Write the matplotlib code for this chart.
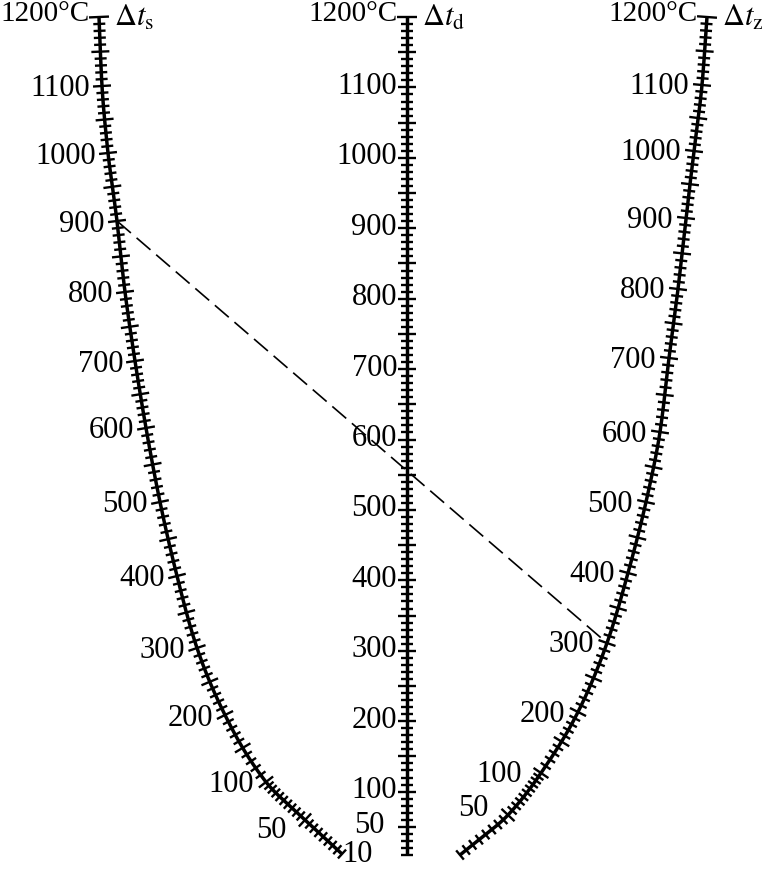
import numpy as np
import matplotlib
matplotlib.use('Agg')
import matplotlib.pyplot as plt
from matplotlib.collections import LineCollection

plt.rcParams['font.family'] = ['Liberation Serif', 'DejaVu Serif']
plt.rcParams['mathtext.fontset'] = 'stix'

# scale values (deg C) at the control points of each scale, bottom to top
s_vals = [10, 50, 100, 200, 300, 400, 500, 600, 700, 800, 900, 1000, 1100, 1200]
s_x = [342, 305, 266, 225, 197, 177, 160, 146, 135, 125, 117, 108, 102, 99]
s_y = [854, 820, 782, 715, 648, 576, 502, 428, 361, 292, 221, 153, 86, 17]

z_vals = [10, 50, 100, 200, 300, 400, 500, 600, 700, 800, 900, 1000, 1100, 1200]
z_x = [460, 508, 541, 578, 607, 628, 646, 660, 669, 678, 686, 694, 702, 707]
z_y = [855, 815, 773, 712, 643, 573, 502, 432, 358, 289, 218, 151, 85, 17]

d_vals = [10, 1200]
d_x = [407, 407]
d_y = [855, 17]

# labelled values
s_labels = [1100, 1000, 900, 800, 700, 600, 500, 400, 300, 200, 100, 50]
d_labels = [1100, 1000, 900, 800, 700, 600, 500, 400, 300, 200, 100, 50, 10]
z_labels = [1100, 1000, 900, 800, 700, 600, 500, 400, 300, 200, 100, 50]

# example reading (dashed line)
ex_s = 900
ex_z = 300


def pchip(xk, yk, x):
    xk = np.asarray(xk, float)
    yk = np.asarray(yk, float)
    x = np.atleast_1d(np.asarray(x, float))
    h = np.diff(xk)
    d = np.diff(yk) / h
    n = len(xk)
    m = np.zeros(n)
    if n == 2:
        m[:] = d[0]
    else:
        m[0] = d[0]
        m[-1] = d[-1]
        for k in range(1, n - 1):
            if d[k - 1] * d[k] > 0:
                w1 = 2 * h[k] + h[k - 1]
                w2 = h[k] + 2 * h[k - 1]
                m[k] = (w1 + w2) / (w1 / d[k - 1] + w2 / d[k])
    i = np.clip(np.searchsorted(xk, x) - 1, 0, n - 2)
    t = (x - xk[i]) / h[i]
    h00 = 2 * t**3 - 3 * t**2 + 1
    h10 = t**3 - 2 * t**2 + t
    h01 = -2 * t**3 + 3 * t**2
    h11 = t**3 - t**2
    return h00 * yk[i] + h10 * h[i] * m[i] + h01 * yk[i + 1] + h11 * h[i] * m[i + 1]


def scale_point(vals, xs, ys, v):
    return float(pchip(vals, xs, v)[0]), float(pchip(vals, ys, v)[0])


fig = plt.figure(figsize=(7.62, 8.69), dpi=100)
ax = fig.add_axes([0, 0, 1, 1])
ax.set_xlim(0, 762)
ax.set_ylim(869, 0)
ax.axis('off')

FS = 22
ticks_10 = np.arange(10, 1201, 10)
ticks_5 = np.concatenate([np.arange(10, 100, 5), np.arange(100, 1201, 10)])


def draw_scale(vals, xs, ys, labels, name, ticks, gap=12, dy=2, shift=None):
    v = np.linspace(10, 1200, 800)
    ax.plot(pchip(vals, xs, v), pchip(vals, ys, v), color='k', lw=2.5,
            solid_capstyle='butt', zorder=3)
    segs = []
    for t in ticks:
        x0, y0 = scale_point(vals, xs, ys, t)
        xa, ya = scale_point(vals, xs, ys, max(t - 1, 10))
        xb, yb = scale_point(vals, xs, ys, min(t + 1, 1200))
        tx, ty = xb - xa, yb - ya
        nrm = np.hypot(tx, ty)
        nx, ny = -ty / nrm, tx / nrm
        half = 9 if t % 50 == 0 else 6
        if t == 1200:
            half = 10
        segs.append([(x0 - nx * half, y0 - ny * half), (x0 + nx * half, y0 + ny * half)])
    ax.add_collection(LineCollection(segs, colors='k', linewidths=1.7, zorder=3))
    for lab in labels:
        x0, y0 = scale_point(vals, xs, ys, lab)
        sx, sy = (shift or {}).get(lab, (0, 0))
        ax.text(x0 - gap - sx, y0 + dy + sy, str(lab), ha='right', va='center',
                fontsize=FS)
    xt, yt = scale_point(vals, xs, ys, 1200)
    ax.text(xt - 9, yt - 3, '1200°C', ha='right', va='center', fontsize=FS - 1)
    ax.text(xt + 15, yt + 1, r'$\Delta t_{\mathrm{' + name + '}}$', ha='left',
            va='center', fontsize=FS)


draw_scale(s_vals, s_x, s_y, s_labels, 's', ticks_5, gap=12, dy=3,
           shift={50: (6, 8)})
draw_scale(d_vals, d_x, d_y, d_labels, 'd', ticks_10, gap=10, dy=-1,
           shift={50: (12, 0), 10: (24, 0)})
draw_scale(z_vals, z_x, z_y, z_labels, 'z', ticks_5, gap=13, dy=2,
           shift={100: (6, 0), 50: (6, -9)})

xs0, ys0 = scale_point(s_vals, s_x, s_y, ex_s)
xz0, yz0 = scale_point(z_vals, z_x, z_y, ex_z)
ax.plot([xs0, xz0], [ys0, yz0], color='k', lw=1.2, ls=(0, (11, 4.5)), zorder=2)

fig.savefig('out.png', dpi=100)
